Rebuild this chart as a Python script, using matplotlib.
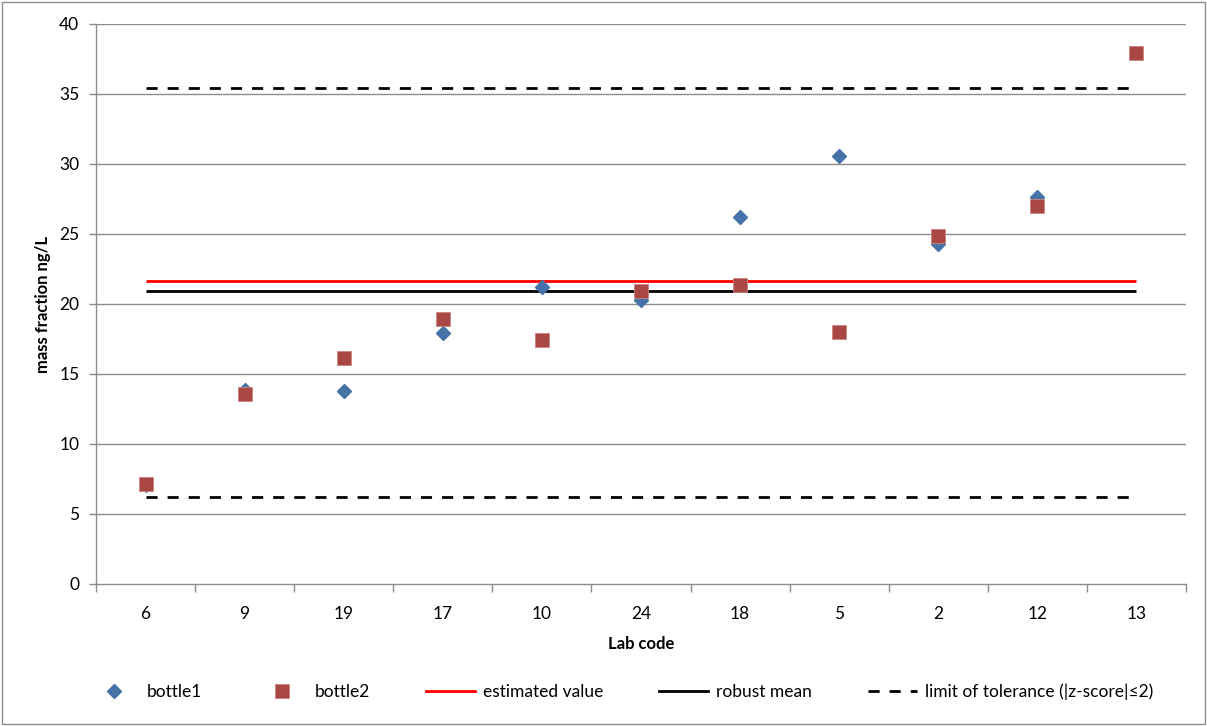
import matplotlib
matplotlib.use("Agg")
import matplotlib.pyplot as plt
import numpy as np
from matplotlib.lines import Line2D
from matplotlib.patches import Rectangle

lab_codes = ["6", "9", "19", "17", "10", "24", "18", "5", "2", "12", "13"]
bottle1 = [7.05, 13.85, 13.8, 17.95, 21.25, 20.3, 26.25, 30.55, 24.3, 27.65, np.nan]
bottle2 = [7.15, 13.6, 16.15, 18.95, 17.45, 20.9, 21.35, 18.0, 24.85, 27.0, 37.9]
estimated_value = 21.65
robust_mean = 20.9
tolerance_low = 6.2
tolerance_high = 35.45

plt.rcParams["font.family"] = ["Lato", "DejaVu Sans"]

grid_col = "#8c8c8c"
blue = "#4572A7"
red = "#AA4643"

fig = plt.figure(figsize=(12.07, 7.26), dpi=100)
ax = fig.add_axes([96 / 1207, 1 - 584 / 726, 1090 / 1207, 560 / 726])

x = np.arange(len(lab_codes))

for y in np.arange(5, 45, 5):
    ax.axhline(y, color=grid_col, lw=1, zorder=0)

ax.hlines(estimated_value, x[0], x[-1], color="#ff0000", lw=2, zorder=2)
ax.hlines(robust_mean, x[0], x[-1], color="black", lw=2, zorder=2)
for t in (tolerance_low, tolerance_high):
    ax.hlines(t, x[0], x[-1], color="black", lw=2, linestyles=(0, (4, 3.6)), zorder=2)

ax.plot(x, bottle1, ls="none", marker="D", ms=7, color=blue, mec=blue, zorder=3)
ax.plot(x, bottle2, ls="none", marker="s", ms=10, color=red, mec="#c98583", mew=0.6, zorder=4)

ax.set_xlim(-0.5, len(lab_codes) - 0.5)
ax.set_ylim(0, 40)
ax.set_yticks(np.arange(0, 45, 5))
ax.set_xticks(x)
ax.set_xticklabels(lab_codes)
ax.set_xticks(np.arange(-0.5, len(lab_codes), 1), minor=True)
ax.tick_params(axis="x", which="major", length=0, pad=16, labelsize=12.5)
ax.tick_params(axis="x", which="minor", length=6, color=grid_col, width=1)
ax.tick_params(axis="y", length=5, color=grid_col, width=1, labelsize=12.5, pad=7)

for s in ("top", "right"):
    ax.spines[s].set_visible(False)
for s in ("left", "bottom"):
    ax.spines[s].set_color(grid_col)
    ax.spines[s].set_linewidth(1)

ax.set_ylabel("mass fraction ng/L", fontsize=12, fontweight="bold", labelpad=6)
ax.set_xlabel("Lab code", fontsize=12, fontweight="bold", labelpad=10)

handles = [
    Line2D([], [], ls="none", marker="D", ms=7, color=blue),
    Line2D([], [], ls="none", marker="s", ms=10, color=red, mec="#c98583", mew=0.6),
    Line2D([], [], color="#ff0000", lw=2),
    Line2D([], [], color="black", lw=2),
    Line2D([], [], color="black", lw=2, ls=(0, (4, 3.6))),
]
labels = ["bottle1", "bottle2", "estimated value", "robust mean",
          "limit of tolerance (|z-score|\u22642)"]
fig.legend(handles, labels, loc="center", bbox_to_anchor=(0.515, 1 - 692 / 726),
           ncol=5, frameon=False, fontsize=12.5, columnspacing=3.2, handlelength=2.8,
           handletextpad=0.5)

fig.patches.append(Rectangle((2 / 1207, 2 / 726), 1 - 4 / 1207, 1 - 4 / 726,
                             transform=fig.transFigure, fill=False,
                             edgecolor=grid_col, lw=1))

fig.savefig("out.png", dpi=100)
